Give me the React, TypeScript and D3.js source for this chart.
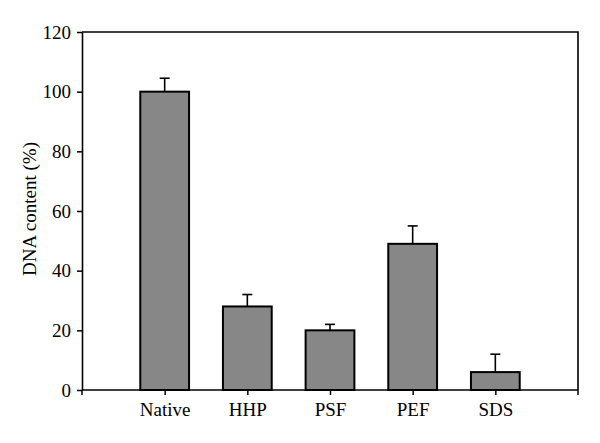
import React, { useEffect, useRef } from 'react';
import * as d3 from 'd3';

const categories = ['Native', 'HHP', 'PSF', 'PEF', 'SDS'];
const values = [100, 28, 20, 49, 6];
const errors = [4.5, 4, 2, 6, 6];
const yTicks = [0, 20, 40, 60, 80, 100, 120];

const App = () => {
  const svgRef = useRef<SVGSVGElement>(null);

  useEffect(() => {
    const width = 600;
    const height = 443;
    const margin = { top: 32, right: 22, bottom: 53, left: 82 };
    const innerW = width - margin.left - margin.right;
    const innerH = height - margin.top - margin.bottom;
    const font = '"Liberation Serif", "Times New Roman", serif';
    const fs = 19;

    const svg = d3.select(svgRef.current);
    svg.selectAll('*').remove();
    svg.attr('width', width).attr('height', height);

    const g = svg.append('g').attr('transform', `translate(${margin.left},${margin.top})`);

    const x = d3.scalePoint<string>().domain(categories).range([0, innerW]).padding(1);
    const y = d3.scaleLinear().domain([0, 120]).range([innerH, 0]);
    const barW = x.step() * 0.59;

    // frame (top + right)
    g.append('path')
      .attr('d', `M0,0H${innerW}V${innerH}`)
      .attr('fill', 'none')
      .attr('stroke', '#000')
      .attr('stroke-width', 1.6);

    // error bars (upper only)
    categories.forEach((c, i) => {
      const cx = x(c)!;
      g.append('line')
        .attr('x1', cx).attr('x2', cx)
        .attr('y1', y(values[i])).attr('y2', y(values[i] + errors[i]))
        .attr('stroke', '#000').attr('stroke-width', 1.6);
      g.append('line')
        .attr('x1', cx - 5).attr('x2', cx + 5)
        .attr('y1', y(values[i] + errors[i])).attr('y2', y(values[i] + errors[i]))
        .attr('stroke', '#000').attr('stroke-width', 1.6);
    });

    // bars
    g.selectAll('rect.bar')
      .data(values)
      .join('rect')
      .attr('class', 'bar')
      .attr('x', (d, i) => x(categories[i])! - barW / 2)
      .attr('y', (d) => y(d))
      .attr('width', barW)
      .attr('height', (d) => innerH - y(d))
      .attr('fill', '#878787')
      .attr('stroke', '#000')
      .attr('stroke-width', 2);

    // y axis
    const yAxis = g.append('g')
      .call(d3.axisLeft(y).tickValues(yTicks).tickSize(5).tickPadding(6).tickSizeOuter(0));
    yAxis.select('.domain').attr('stroke-width', 1.6);
    yAxis.selectAll('.tick line').attr('stroke-width', 1.5);
    yAxis.selectAll('text').attr('font-family', font).attr('font-size', fs).attr('fill', '#000');

    // x axis with ticks at plot ends too
    const xAxis = g.append('g').attr('transform', `translate(0,${innerH})`);
    xAxis.append('line')
      .attr('x1', 0).attr('x2', innerW)
      .attr('stroke', '#000').attr('stroke-width', 1.6);
    [0, innerW].forEach((px) => {
      xAxis.append('line')
        .attr('x1', px).attr('x2', px).attr('y1', 0).attr('y2', 5)
        .attr('stroke', '#000').attr('stroke-width', 1.5);
    });
    const xa = xAxis.append('g')
      .call(d3.axisBottom(x).tickSize(5).tickPadding(8).tickSizeOuter(0));
    xa.select('.domain').remove();
    xa.selectAll('.tick line').attr('stroke-width', 1.5);
    xa.selectAll('text').attr('font-family', font).attr('font-size', fs).attr('fill', '#000');

    // y label
    svg.append('text')
      .attr('transform', `translate(36,${margin.top + innerH / 2 - 2}) rotate(-90)`)
      .attr('text-anchor', 'middle')
      .attr('font-family', font)
      .attr('font-size', fs)
      .text('DNA content (%)');
  }, []);

  return (
    <svg ref={svgRef} style={{ position: 'absolute', left: 0, top: 0, background: '#fff' }}></svg>
  );
};

export default App;
